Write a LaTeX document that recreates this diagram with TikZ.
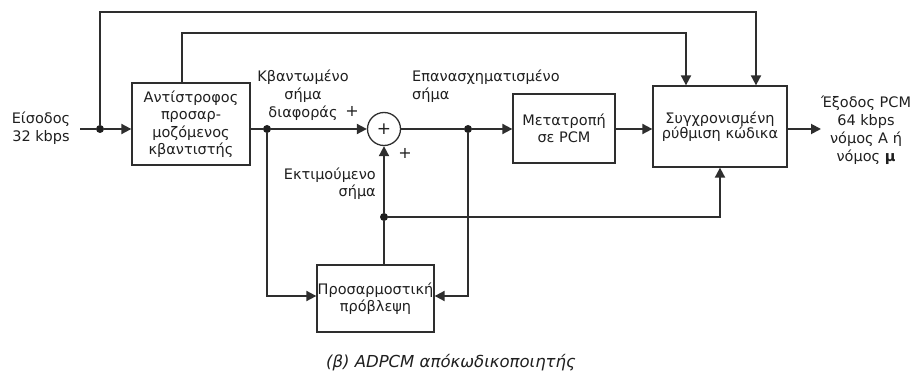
\documentclass[tikz,border=0pt]{standalone}
\usepackage{fontspec}
\setmainfont{DejaVu Sans}
\usetikzlibrary{arrows.meta}
\begin{document}
\begin{tikzpicture}[x=1pt,y=-1pt,
  every node/.style={font=\fontsize{14.5}{17.5}\selectfont, text=black!88, inner sep=0pt},
  blk/.style={draw=black!82, line width=1.3pt, align=center},
  wire/.style={draw=black!82, line width=1.9pt},
  arr/.style={wire, -{Triangle[length=10pt,width=10pt]}},
  jn/.style={circle, fill=black!88, inner sep=0pt, minimum size=8pt},
  lbl/.style={align=center}
]
\useasboundingbox (0,0) rectangle (915,374);

% blocks
\node[blk, minimum width=118pt, minimum height=82pt] (quant) at (191,124)
  {Αντίστροφος\\προσαρ-\\μοζόμενος\\κβαντιστής};
\node[blk, minimum width=102pt, minimum height=69pt] (pcm) at (564,128.5)
  {Μετατροπή\\σε PCM};
\node[blk, minimum width=134pt, minimum height=81pt, font=\fontsize{14.5}{15.5}\selectfont] (sync) at (720,126.5)
  {Συγχρονισμένη\\ρύθμιση κώδικα};
\node[blk, minimum width=117pt, minimum height=67pt] (pred) at (375.5,298.5)
  {Προσαρμοστική\\πρόβλεψη};
\node[draw=black!82, line width=1.3pt, circle, minimum size=33pt, font=\fontsize{17}{18}\selectfont] (sum) at (384,129) {+};

% junctions and free ends
\coordinate (in) at (80,129);
\coordinate (out) at (821,129);
\node[jn] (j1) at (100,129) {};
\node[jn] (j2) at (267,129) {};
\node[jn] (j3) at (468,129) {};
\node[jn] (j4) at (384,217) {};

% texts
\node[lbl] (inlbl) at (41,128) {Είσοδος\\32 kbps};
\node[lbl, font=\fontsize{14.5}{18}\selectfont] (outlbl) at (866,130) {Έξοδος PCM\\64 kbps\\νόμος Α ή\\νόμος \textbf{μ}};
\node[lbl, font=\fontsize{14.5}{18}\selectfont] (qlbl) at (303,95) {Κβαντωμένο\\σήμα\\διαφοράς};
\node[align=left, anchor=west, font=\fontsize{14.5}{18}\selectfont] (rlbl) at (412,86) {Επανασχηματισμένο\\σήμα};
\node[align=right, anchor=east] (elbl) at (376,183.5) {Εκτιμούμενο\\σήμα};
\node[font=\fontsize{16}{18}\selectfont] (p1) at (352,111) {+};
\node[font=\fontsize{16}{18}\selectfont] (p2) at (405,153) {+};
\node[font=\fontsize{16.5}{18}\itshape] (cap) at (451,363) {(β) ADPCM απόκωδικοποιητής};

% forward path
\draw[wire] (in) -- (j1);
\draw[arr] (j1) -- (quant.west |- j1);
\draw[wire] (quant.east |- j2) -- (j2);
\draw[arr] (j2) -- (sum.west);
\draw[wire] (sum.east) -- (j3);
\draw[arr] (j3) -- (pcm.west |- j3);
\draw[arr] (pcm.east |- sum) -- (sync.west |- sum);
\draw[arr] (sync.east |- sum) -- (out);

% feed-forward lines over the top
\draw[arr] (j1) -- (100,12) -- (756,12) -- (756,12 |- sync.north);
\draw[arr] (quant.north -| 182,0) -- (182,33) -- (686,33) -- (686,33 |- sync.north);

% predictor loop
\draw[arr] (j2) |- (pred.west |- 0,296);
\draw[arr] (j3) |- (pred.east |- 0,296);
\draw[wire] (pred.north -| j4) -- (j4);
\draw[arr] (j4) -- (sum.south);
\draw[arr] (j4) -| (sync.south);
\end{tikzpicture}
\end{document}
